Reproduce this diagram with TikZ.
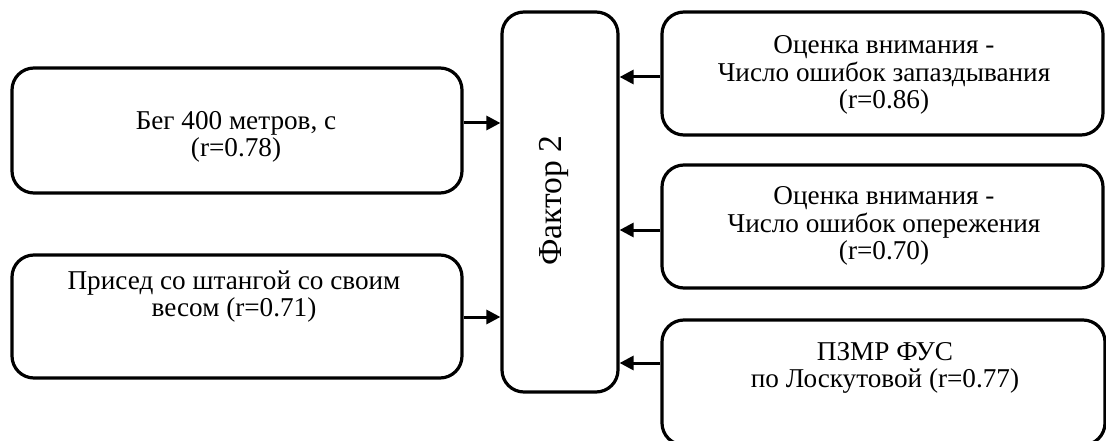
\documentclass[tikz,border=0pt]{standalone}
\usepackage{fontspec}
\setmainfont{Liberation Serif}
\usetikzlibrary{arrows.meta}
\tikzset{
  box/.style={draw, line width=3.2pt, rounded corners=22pt, minimum width=#1, inner sep=0pt},
  txt/.style={align=center, inner sep=0pt, font=\fontsize{27.2}{27}\selectfont},
  arr/.style={line width=3pt, -{Triangle[length=14pt,width=14pt]}}
}
\begin{document}
\begin{tikzpicture}[x=1pt,y=-1pt]
\useasboundingbox (0,0) rectangle (1106,441);
\clip (0,0) rectangle (1106,441);
\node[box=116pt, minimum height=380pt] (fac) at (560,202) {};
\node[box=450pt, minimum height=125pt] (lb1) at (237,130.5) {};
\node[box=450pt, minimum height=123pt] (lb2) at (237,316.5) {};
\node[box=441pt, minimum height=123pt] (rb1) at (882.5,73.5) {};
\node[box=441pt, minimum height=123pt] (rb2) at (882.5,226.5) {};
\node[box=443pt, minimum height=125pt] (rb3) at (883.5,382.5) {};

\node[txt, rotate=90, font=\fontsize{33.5}{34}\selectfont] (tfac) at (554,201) {Фактор 2};
\node[txt] (t1) at (236,138) {\strut Бег 400 метров, с\\\strut (r=0.78)};
\node[txt] (t2) at (234,298) {\strut Присед со штангой со своим\\\strut весом (r=0.71)};
\node[txt] (t3) at (884,75.5) {\strut Оценка внимания -\\\strut Число ошибок запаздывания\\\strut (r=0.86)};
\node[txt] (t4) at (884,226.5) {\strut Оценка внимания -\\\strut Число ошибок опережения\\\strut (r=0.70)};
\node[txt] (t5) at (885,369) {\strut ПЗМР ФУС\\\strut по Лоскутовой (r=0.77)};

\draw[arr] (lb1.east |- 0,123) -- (fac.west |- 0,123);
\draw[arr] (lb2.east |- 0,317) -- (fac.west |- 0,317);
\draw[arr] (rb1.west |- 0,77) -- (fac.east |- 0,77);
\draw[arr] (rb2.west |- 0,230) -- (fac.east |- 0,230);
\draw[arr] (rb3.west |- 0,363) -- (fac.east |- 0,363);
\end{tikzpicture}
\end{document}
